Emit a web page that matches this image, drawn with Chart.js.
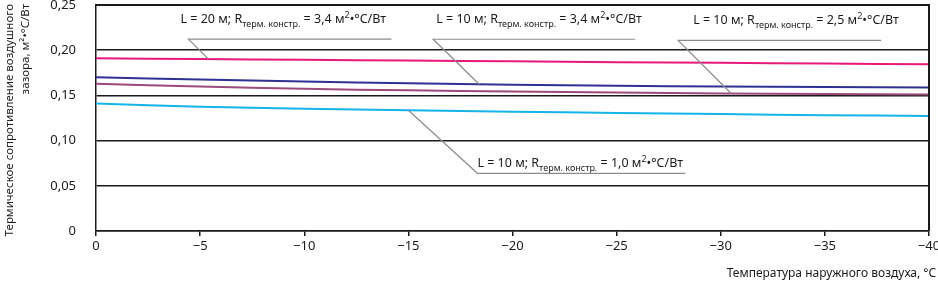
<!DOCTYPE html>
<html>
<head>
<meta charset="utf-8">
<script src="https://cdn.jsdelivr.net/npm/chart.js@4"></script>
<style>
  html, body { margin: 0; padding: 0; background: #fff; }
  canvas { display: block; }
</style>
</head>
<body>
<canvas id="grafico" width="938" height="286"></canvas>
<script>
// температура наружного воздуха, °C
const temps = [0, -5, -10, -15, -20, -25, -30, -35, -40];

// термическое сопротивление воздушного зазора, м²·°C/Вт
const l20r34 = [0.191, 0.1902, 0.1893, 0.1885, 0.1877, 0.1868, 0.186, 0.1852, 0.1845];
const l10r34 = [0.170, 0.1675, 0.1653, 0.1635, 0.1618, 0.1606, 0.1598, 0.1592, 0.1588];
const l10r25 = [0.163, 0.1598, 0.1573, 0.1556, 0.1543, 0.1532, 0.1522, 0.1515, 0.151];
const l10r10 = [0.141, 0.1375, 0.1352, 0.1335, 0.132, 0.1306, 0.1293, 0.1281, 0.1272];

const yTickValues = [0, 0.05, 0.10, 0.15, 0.20, 0.25];
const yTickLabels = ['0', '0,05', '0,10', '0,15', '0,20', '0,25'];
const xTickValues = [0, -5, -10, -15, -20, -25, -30, -35, -40];
const xTickLabels = ['0', '\u22125', '\u221210', '\u221215', '\u221220', '\u221225', '\u221230', '\u221235', '\u221240'];

const FONT = '"Noto Sans", sans-serif';

// подписи кривых: L, R и к какой кривой ведёт выноска
const notes = [
  { ds: 0, at: -5.4, L: '20', R: '3,4', dx: -20, dy: -20, len: 203, tx: -8, ty: -16 },
  { ds: 1, at: -18.4, L: '10', R: '3,4', dx: -46, dy: -45, len: 202, tx: 3, ty: -16 },
  { ds: 2, at: -30.5, L: '10', R: '2,5', dx: -53, dy: -53, len: 203, tx: 15, ty: -16 },
  { ds: 3, at: -15, L: '10', R: '1,0', dx: 69, dy: 63, len: 208, tx: 0, ty: -6 }
];

function pts(arr) {
  return temps.map((t, i) => ({ x: t, y: arr[i] }));
}

function valueAt(arr, t) {
  for (let i = 0; i < temps.length - 1; i++) {
    const a = temps[i], b = temps[i + 1];
    if (t <= a && t >= b) {
      const k = (t - a) / (b - a);
      return arr[i] + (arr[i + 1] - arr[i]) * k;
    }
  }
  return arr[arr.length - 1];
}

const series = [l20r34, l10r34, l10r25, l10r10];

const notesPlugin = {
  id: 'notes',
  afterDraw(chart) {
    const ctx = chart.ctx;
    const xs = chart.scales.x, ys = chart.scales.y;
    const area = chart.chartArea;

    ctx.save();
    // рамка сверху и справа
    ctx.fillStyle = '#1a1a1a';
    ctx.fillRect(area.left, area.top - 1, area.right - area.left + 1, 2);
    ctx.fillRect(area.right - 1, area.top - 1, 2, area.bottom - area.top + 1);

    notes.forEach(n => {
      const px = xs.getPixelForValue(n.at);
      const py = ys.getPixelForValue(valueAt(series[n.ds], n.at));
      const ux = px + n.dx, uy = py + n.dy;
      ctx.strokeStyle = '#8c8c8c';
      ctx.lineWidth = 1.2;
      ctx.beginPath();
      ctx.moveTo(ux + n.len, uy);
      ctx.lineTo(ux, uy);
      ctx.lineTo(px, py);
      ctx.stroke();

      // текст с индексами
      let x = ux + n.tx;
      const base = uy + n.ty;
      ctx.fillStyle = '#1a1a1a';
      ctx.textBaseline = 'alphabetic';
      ctx.textAlign = 'left';
      const parts = [
        ['L = ' + n.L + ' м; R', 12.5, 0],
        ['терм. констр.', 9, 3.5],
        [' = ' + n.R + ' м', 12.5, 0],
        ['2', 9, -5],
        ['•°C/Вт', 12.5, 0]
      ];
      parts.forEach(p => {
        ctx.font = p[1] + 'px ' + FONT;
        ctx.fillText(p[0], x, base + p[2]);
        x += ctx.measureText(p[0]).width;
      });
    });

    // подписи осей
    ctx.fillStyle = '#1a1a1a';
    ctx.font = '12px ' + FONT;
    ctx.textAlign = 'right';
    ctx.textBaseline = 'alphabetic';
    ctx.fillText('Температура наружного воздуха, °C', 936, 277);

    ctx.rotate(-Math.PI / 2);
    ctx.textAlign = 'right';
    ctx.font = '11.5px ' + FONT;
    ctx.fillText('Термическое сопротивление воздушного', -4, 13);
    ctx.fillText('зазора, м²•°C/Вт', -4, 29);
    ctx.restore();
  }
};

const ctx = document.getElementById('grafico').getContext('2d');

new Chart(ctx, {
  type: 'line',
  data: {
    datasets: [
      { label: 'L = 20 м; R = 3,4', data: pts(l20r34), borderColor: '#e8197d' },
      { label: 'L = 10 м; R = 3,4', data: pts(l10r34), borderColor: '#2e3192' },
      { label: 'L = 10 м; R = 2,5', data: pts(l10r25), borderColor: '#9b4a7b' },
      { label: 'L = 10 м; R = 1,0', data: pts(l10r10), borderColor: '#14b4ea' }
    ].map(d => Object.assign(d, { borderWidth: 2, pointRadius: 0, tension: 0.35, fill: false }))
  },
  options: {
    responsive: false,
    animation: false,
    layout: { padding: { left: 0, right: 9, top: 5, bottom: 0 } },
    plugins: { legend: { display: false }, tooltip: { enabled: false } },
    scales: {
      x: {
        type: 'linear',
        reverse: true,
        min: -40,
        max: 0,
        afterBuildTicks: s => { s.ticks = xTickValues.map(v => ({ value: v })); },
        ticks: {
          color: '#1a1a1a',
          font: { family: FONT, size: 13 },
          padding: 2,
          maxRotation: 0,
          callback: v => xTickLabels[xTickValues.indexOf(v)]
        },
        grid: { drawOnChartArea: false, drawTicks: true, tickLength: 5, color: '#1a1a1a', lineWidth: 1.5 },
        border: { color: '#1a1a1a', width: 1.5 },
        afterFit: s => { s.height = 55; s.paddingLeft = 0; s.paddingRight = 0; }
      },
      y: {
        min: 0,
        max: 0.25,
        afterBuildTicks: s => { s.ticks = yTickValues.map(v => ({ value: v })); },
        ticks: {
          color: '#1a1a1a',
          font: { family: FONT, size: 13 },
          padding: 20,
          callback: v => yTickLabels[yTickValues.indexOf(v)]
        },
        grid: { drawTicks: false, color: '#1a1a1a', lineWidth: 1.5 },
        border: { color: '#1a1a1a', width: 1.5 },
        afterFit: s => { s.width = 96; s.paddingTop = 0; s.paddingBottom = 0; }
      }
    }
  },
  plugins: [notesPlugin]
});
</script>
</body>
</html>
